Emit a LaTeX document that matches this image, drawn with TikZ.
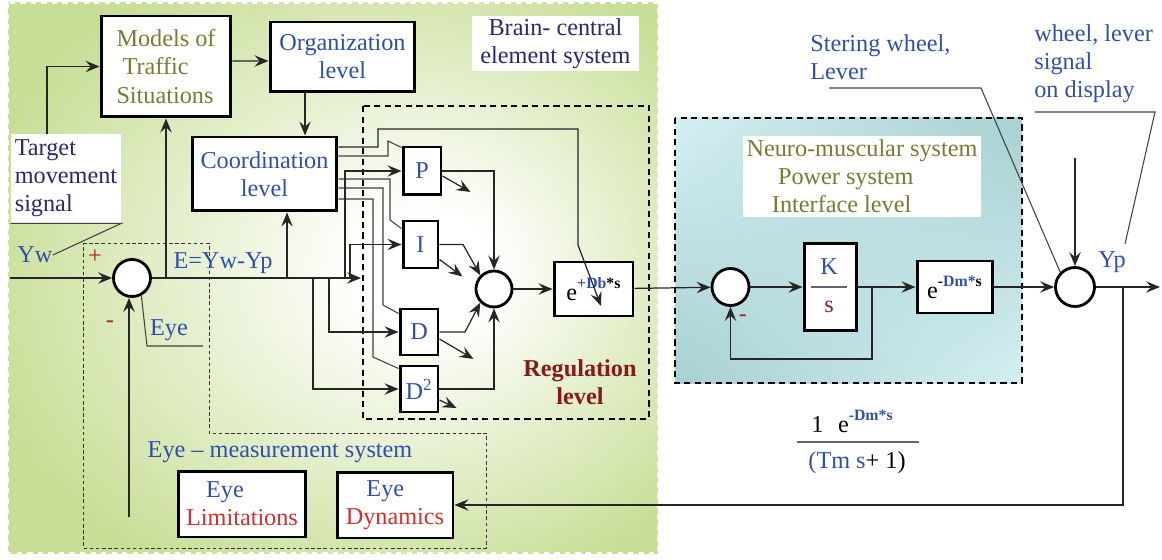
\documentclass[tikz,border=0pt]{standalone}
\usepackage{fontspec}
\setmainfont{Liberation Serif}
\usetikzlibrary{positioning,arrows.meta,shadings}

\definecolor{txtblue}{RGB}{48,78,172}
\definecolor{txtnavy}{RGB}{40,40,110}
\definecolor{txtolive}{RGB}{122,122,52}
\definecolor{txtred}{RGB}{212,45,45}
\definecolor{regred}{RGB}{135,25,25}
\definecolor{brainbg}{RGB}{200,222,150}
\definecolor{neurolight}{RGB}{212,239,241}
\definecolor{neurodark}{RGB}{168,208,210}

\pgfdeclareradialshading{brainglow}{\pgfpoint{8bp}{1bp}}{color(0bp)=(white); color(5bp)=(white); color(31bp)=(brainbg); color(50bp)=(brainbg)}

\newcommand{\diagfont}{\fontsize{13.8}{16}\selectfont}
\newcommand{\supfont}{\fontsize{9}{10}\selectfont\bfseries}

\begin{document}
\begin{tikzpicture}[
  x=0.02cm, y=-0.02cm, font=\diagfont,
  block/.style={rectangle, draw=black, line width=1.7pt, fill=white, inner sep=0pt, align=center, text=txtblue},
  sumnode/.style={circle, draw=black, line width=1.6pt, fill=white, minimum size=0.74cm, inner sep=0pt},
  conn/.style={-{Stealth[length=8pt, width=6.5pt, inset=3pt]}, line width=0.7pt, black!85},
  wire/.style={line width=0.6pt, black!75},
  lbl/.style={text=txtblue, inner sep=0pt},
  sign/.style={text=txtred!80!black, inner sep=0pt},
  frame/.style={line width=1.3pt, dash pattern=on 3.5pt off 2.5pt}
  ]
  \useasboundingbox (0,0) rectangle (1162,560);

  % Background areas
  \shade[shading=brainglow] (8,3) rectangle (658,553);
  \draw[white, dashed, line width=0.8pt] (8,3) rectangle (658,553);
  \shade[upper left=neurolight, upper right=neurodark, lower left=neurodark, lower right=neurolight] (675,118) rectangle (1022,383);
  \draw[frame] (675,118) rectangle (1022,383);
  \draw[frame] (363,106) rectangle (649,419);
  \draw[black!80, line width=0.5pt, dash pattern=on 2pt off 1.5pt] (83,243) -- (209,243) -- (209,433) -- (486,433) -- (486,548) -- (83,548) -- cycle;

  % Brain: upper levels
  \node[block, text=txtolive, minimum width=2.6cm, minimum height=2.02cm, align=left] (models) at (166,66.5) {Models of\\\ Traffic\\Situations};
  \node[block, minimum width=2.9cm, minimum height=1.4cm] (org) at (342.5,57) {Organization\\level};
  \node[block, minimum width=2.9cm, minimum height=1.48cm] (coord) at (264.5,174) {Coordination\\level};
  \node[fill=white, text=txtnavy, minimum width=2.2cm, minimum height=1.78cm, align=left, inner sep=0pt] (target) at (66,178.5) {Target\\movement\\signal};
  \node[fill=white, text=txtnavy, minimum width=3.34cm, minimum height=1.1cm, align=center, inner sep=0pt] (brain) at (555.5,43.5) {Brain- central\\element system};

  % Regulation level
  \node[block, minimum width=0.76cm, minimum height=0.96cm] (pp) at (422,171) {P};
  \node[block, minimum width=0.7cm, minimum height=0.94cm] (ii) at (420.5,244.5) {I};
  \node[block, minimum width=0.76cm, minimum height=0.92cm] (dd) at (419,332) {D};
  \node[block, minimum width=0.76cm, minimum height=0.92cm] (d2) at (419,389) {D\textsuperscript{2}};
  \node[sumnode] (sum1) at (132,278) {};
  \node[sumnode, minimum size=0.72cm] (sum2) at (494,289) {};
  \node[block, text=black, minimum width=1.58cm, minimum height=1.08cm] (edb) at (593.5,289) {e\raisebox{0.5em}{\supfont\textcolor{txtblue}{+Db}*s}};
  \node[text=regred, font=\diagfont\bfseries, align=center, inner sep=0pt] (reglbl) at (580,382) {Regulation\\level};

  % Neuro-muscular system
  \node[fill=white, text=txtolive, minimum width=4.76cm, minimum height=1.62cm, align=left, inner sep=0pt] (neuro) at (862,176.5) {Neuro-muscular system\\\hspace*{1.3em}Power system\\\hspace*{1.05em}Interface level};
  \node[sumnode] (sum3) at (730.5,287) {};
  \node[block, minimum width=1.04cm, minimum height=1.76cm] (ks) at (830,287) {};
  \node[lbl] (kk) at (829,267) {K};
  \node[text=txtred!70!black, inner sep=0pt] (ss) at (829,307) {s};
  \draw[black!60, line width=0.8pt] (811,287) -- (847,287);
  \node[block, text=black, minimum width=1.5cm, minimum height=1.04cm] (edm) at (954.5,287) {e\raisebox{0.5em}{\supfont -\textcolor{txtblue}{Dm*}s}};
  \node[sumnode, minimum size=0.78cm] (sum4) at (1075,287) {};

  % Eye measurement system
  \node[block, minimum width=2.56cm, minimum height=1.32cm] (eyelim) at (242,504) {Eye\hspace*{1.4em}\\\textcolor{txtred}{Limitations}};
  \node[block, minimum width=2.32cm, minimum height=1.32cm] (eyedyn) at (395,505) {Eye\hspace*{0.8em}\\\textcolor{txtred}{Dynamics}};

  % Labels
  \node[lbl] (yw) at (35,255) {Yw};
  \node[sign] (plus) at (95,257) {+};
  \node[sign] (minus1) at (110,324) {-};
  \node[lbl] (elbl) at (223,263) {E=Yw-Yp};
  \node[lbl] (eyelbl) at (169,330) {Eye};
  \node[lbl] (eyems) at (280,452) {Eye – measurement system};
  \node[sign] (minus3) at (743,318) {-};
  \node[lbl] (yp) at (1112,262) {Yp};
  \node[lbl, align=left, anchor=west] (steer) at (810,57.5) {Stering wheel,\\Lever};
  \node[lbl, align=left, anchor=west] (wheel) at (1034,63.5) {wheel, lever\\signal\\on display};
  \node[inner sep=0pt] (fnum) at (852,421) {1\hspace{0.6em}e\raisebox{0.5em}{\supfont\textcolor{txtblue}{-Dm*s}}};
  \node[inner sep=0pt] (fden) at (857,463) {\textcolor{txtblue}{(Tm s}+ 1)};
  \draw[black!60, line width=0.8pt] (797,442) -- (919,442);

  % Free ends and branch points
  \coordinate (ywin) at (10,278);
  \coordinate (mainend) at (361,278);
  \coordinate (bcoord) at (287,278);
  \coordinate (bd2) at (313,278);
  \coordinate (bd) at (329,278);
  \coordinate (bp) at (345,278);
  \coordinate (bi) at (350,278);
  \coordinate (eyebot) at (129,517);
  \coordinate (orgdown) at ([xshift=-0.75cm]org.south);
  \coordinate (fb) at (872,287);
  \coordinate (fbl) at (730.5,359);
  \coordinate (top4) at (1075,158);
  \coordinate (ypout) at (1160,287);
  \coordinate (yptap) at (1123,287);

  % Upper levels
  \draw[conn] ([xshift=-0.38cm]target.north) |- (models.west);
  \draw[conn] ([yshift=0.11cm]models.east) -- ([yshift=-0.08cm]org.west);
  \draw[conn] (orgdown) -- (orgdown |- coord.north);
  \draw[wire] (target.south west) -- (target.south east) -- (yw.east);

  % Error signal
  \draw[conn] (ywin) -- (sum1);
  \draw[conn] (sum1) -- (mainend);
  \draw[conn] (models.south |- sum1) -- (models.south);
  \draw[conn] (bcoord) -- (bcoord |- coord.south);
  \draw[conn] (eyebot) -- (eyebot |- sum1.south);
  \draw[wire] (sum1.-62) -- (147,346) -- (203,346);

  % Coordination outputs
  \draw[conn] ([yshift=0.54cm]coord.east) -| (378,129) -- (578,129) -- (578,245) -- ([xshift=0.15cm,yshift=-0.34cm]edb.center);
  \draw[wire] ([yshift=0.36cm]coord.east) -| (388,141) -- ([yshift=-0.04cm]pp.north west);
  \draw[wire] ([yshift=-0.1cm]coord.east) -| (390,220) -- ([yshift=-0.18cm]ii.north west);
  \draw[wire] ([yshift=-0.28cm]coord.east) -| (383,305) -- ([yshift=-0.12cm]dd.north west);
  \draw[wire] ([yshift=-0.5cm]coord.east) -| (373,357) -- ([yshift=-0.08cm]d2.north west);

  % P I D D2 inputs and outputs
  \draw[conn] (bp) |- (pp.west);
  \draw[conn] (bi) |- (ii.west);
  \draw[conn] (bd) |- (dd.west);
  \draw[conn] (bd2) |- (d2.west);
  \draw[conn] (pp.east) -| (sum2.north);
  \draw[conn] (ii.east) -- (463,244.5) -- (sum2.north west);
  \draw[conn] (dd.east) -- (465,332) -- (sum2.south west);
  \draw[conn] (d2.east) -| (sum2.south);
  \draw[conn] ([yshift=-0.1cm]pp.east) -- ++(28,16);
  \draw[conn] ([yshift=-0.3cm]ii.east) -- ++(23,17);
  \draw[conn] ([yshift=-0.14cm]dd.east) -- ++(34,20);
  \draw[conn] ([yshift=-0.22cm]d2.east) -- ++(17,8);
  \draw[conn] (sum2) -- (edb);

  % Power system and output
  \draw[conn] (edb) -- (sum3);
  \draw[conn] (sum3) -- (ks);
  \draw[conn] (ks) -- (edm);
  \draw[conn] (edm) -- (sum4);
  \draw[conn] (sum4) -- (ypout);
  \draw[conn] (fb) |- (fbl) -- (sum3.south);
  \draw[conn] (top4) -- (sum4.north);
  \draw[conn] (yptap) |- (eyedyn.east);
  \draw[wire] (829,88) -- (981,88) -- (sum4.north west);
  \draw[wire] (1035,112) -- (1155,112) -- (1125,244);
\end{tikzpicture}
\end{document}
